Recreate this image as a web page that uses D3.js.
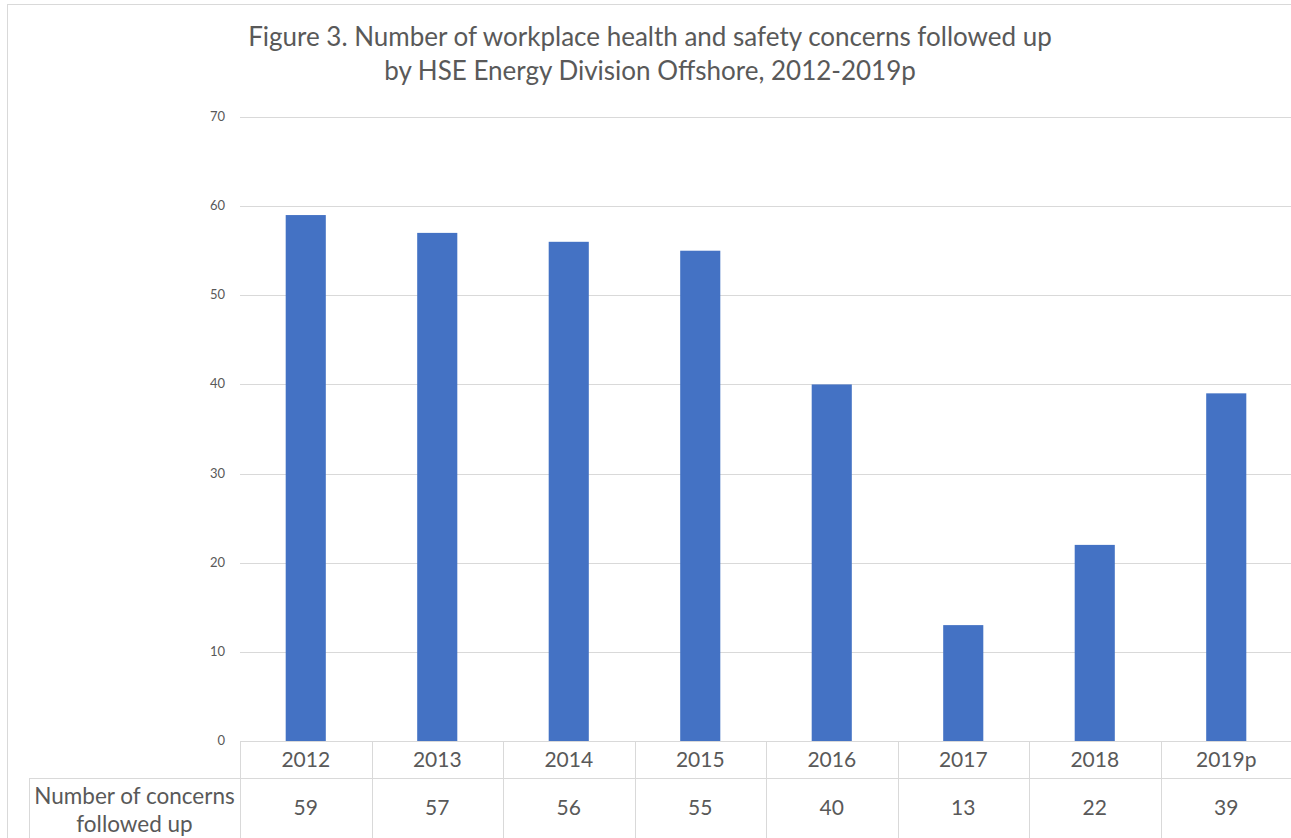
<!DOCTYPE html>
<html lang="en">
<head>
  <meta charset="UTF-8">
  <title>Figure 3. Workplace health and safety concerns</title>
  <script src="https://d3js.org/d3.v7.min.js"></script>
  <style>
    body { margin: 0; padding: 0; background: #fff; font-family: Lato, "Open Sans", sans-serif; }
    svg text { fill: #595959; }
  </style>
</head>
<body>
  <svg id="chart"></svg>
  <script>
    const years = ["2012", "2013", "2014", "2015", "2016", "2017", "2018", "2019p"];
    const concerns = [59, 57, 56, 55, 40, 13, 22, 39];
    const yTicks = [0, 10, 20, 30, 40, 50, 60, 70];
    const titleLines = [
      "Figure 3. Number of workplace health and safety concerns followed up",
      "by HSE Energy Division Offshore, 2012-2019p"
    ];
    const rowLabel = ["Number of concerns", "followed up"];

    const width = 1291, height = 838;
    const plot = { left: 240, right: 1292, top: 117, bottom: 741 };
    const tableRow = 778, tableLeft = 29;
    const gridColor = "#d9d9d9";

    const svg = d3.select("#chart").attr("width", width).attr("height", height);

    // outer frame (top and left edges visible)
    svg.append("line").attr("x1", 7).attr("x2", width).attr("y1", 4.5).attr("y2", 4.5)
      .attr("stroke", gridColor);
    svg.append("line").attr("x1", 7.5).attr("x2", 7.5).attr("y1", 4).attr("y2", height)
      .attr("stroke", gridColor);

    // title
    svg.append("g").selectAll("text")
      .data(titleLines)
      .join("text")
      .attr("x", 650)
      .attr("y", (d, i) => 46 + i * 34)
      .attr("text-anchor", "middle")
      .attr("font-size", 26)
      .text(d => d);

    const x = d3.scaleBand().domain(years).range([plot.left, plot.right]);
    const y = d3.scaleLinear().domain([0, 70]).range([plot.bottom, plot.top]);

    // gridlines
    svg.append("g").selectAll("line")
      .data(yTicks.filter(t => t > 0))
      .join("line")
      .attr("x1", plot.left).attr("x2", plot.right)
      .attr("y1", d => Math.round(y(d)) + 0.5).attr("y2", d => Math.round(y(d)) + 0.5)
      .attr("stroke", gridColor);

    // y tick labels
    svg.append("g").selectAll("text")
      .data(yTicks)
      .join("text")
      .attr("x", 225)
      .attr("y", d => y(d) + 4)
      .attr("text-anchor", "end")
      .attr("font-size", 13)
      .text(d => d);

    // bars
    const barW = x.bandwidth() * 0.305;
    svg.append("g").selectAll("rect")
      .data(concerns)
      .join("rect")
      .attr("x", (d, i) => x(years[i]) + x.bandwidth() / 2 - barW / 2)
      .attr("y", d => y(d))
      .attr("width", barW)
      .attr("height", d => y(0) - y(d))
      .attr("fill", "#4472c4");

    // data table
    const table = svg.append("g").attr("stroke", gridColor).attr("fill", "none");
    table.append("line").attr("x1", plot.left).attr("x2", plot.right)
      .attr("y1", plot.bottom + 0.5).attr("y2", plot.bottom + 0.5);
    table.append("line").attr("x1", tableLeft).attr("x2", plot.right)
      .attr("y1", tableRow + 0.5).attr("y2", tableRow + 0.5);
    table.append("line").attr("x1", tableLeft + 0.5).attr("x2", tableLeft + 0.5)
      .attr("y1", tableRow).attr("y2", height);
    table.selectAll(".sep")
      .data(years)
      .join("line")
      .attr("class", "sep")
      .attr("x1", d => Math.round(x(d)) + 0.5).attr("x2", d => Math.round(x(d)) + 0.5)
      .attr("y1", plot.bottom).attr("y2", height);

    svg.append("g").selectAll("text")
      .data(years)
      .join("text")
      .attr("x", d => x(d) + x.bandwidth() / 2)
      .attr("y", 767)
      .attr("text-anchor", "middle")
      .attr("font-size", 21)
      .text(d => d);

    svg.append("g").selectAll("text")
      .data(concerns)
      .join("text")
      .attr("x", (d, i) => x(years[i]) + x.bandwidth() / 2)
      .attr("y", 815)
      .attr("text-anchor", "middle")
      .attr("font-size", 21)
      .text(d => d);

    svg.append("g").selectAll("text")
      .data(rowLabel)
      .join("text")
      .attr("x", (tableLeft + plot.left) / 2)
      .attr("y", (d, i) => 804 + i * 28)
      .attr("text-anchor", "middle")
      .attr("font-size", 22.5)
      .text(d => d);
  </script>
</body>
</html>
